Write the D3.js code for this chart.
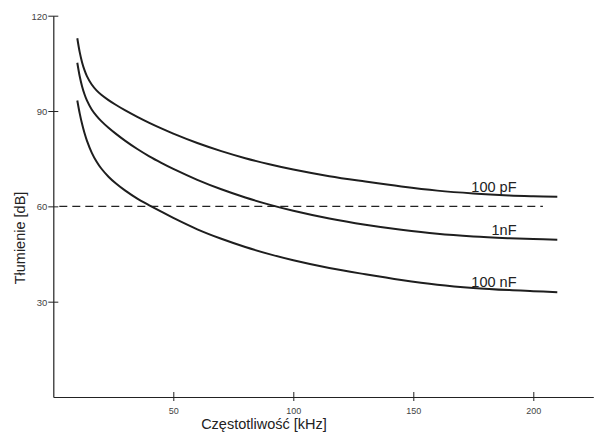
<!DOCTYPE html>
<html>
<head>
<meta charset="utf-8">
<script src="https://cdn.jsdelivr.net/npm/d3@7"></script>
<style>
  html, body { margin: 0; padding: 0; background: #fff; }
  svg { display: block; font-family: "Liberation Sans", Arial, sans-serif; }
</style>
</head>
<body>
<svg id="chart" width="594" height="441"></svg>
<script>
// ---- data ----
const freqs = [10, 11, 12, 13, 14, 16, 18, 20, 23, 26, 30, 35, 40, 45, 50, 60, 70, 80, 90, 100, 115, 130, 145, 160, 175, 190, 200, 210];
const att100pF = [112.90, 108.53, 105.29, 102.86, 100.99, 98.33, 96.50, 95.12, 93.43, 91.97, 90.19, 88.16, 86.27, 84.52, 82.88, 79.93, 77.38, 75.16, 73.25, 71.58, 69.49, 67.81, 66.25, 64.95, 64.06, 63.45, 63.19, 63.00];
const att1nF   = [105.20, 100.95, 97.73, 95.27, 93.33, 90.50, 88.49, 86.82, 84.73, 82.89, 80.61, 78.04, 75.74, 73.69, 71.78, 68.35, 65.37, 62.79, 60.55, 58.61, 56.17, 54.21, 52.62, 51.34, 50.51, 49.97, 49.70, 49.50];
const att100nF = [93.30, 89.25, 85.89, 83.07, 80.69, 76.93, 74.12, 71.91, 69.33, 67.26, 64.94, 62.43, 60.33, 58.31, 56.35, 52.77, 49.79, 47.21, 44.97, 43.03, 40.59, 38.63, 36.84, 35.36, 34.33, 33.64, 33.32, 33.00];
const seriesNames = ["100 pF", "1nF", "100 nF"];
const xTicks = [50, 100, 150, 200];
const yTicks = [30, 60, 90, 120];
const thresholdValue = 60;
const thresholdRange = [0, 204];
const labelX = 193;
const xTitle = "Częstotliwość [kHz]";
const yTitle = "Tłumienie [dB]";

const series = [att100pF, att1nF, att100nF].map((vals, i) => ({
  name: seriesNames[i],
  points: freqs.map((f, j) => ({ x: f, y: vals[j] }))
}));

// ---- scales ----
const svg = d3.select("#chart");
const x = d3.scaleLinear().domain([0, 225]).range([53.3, 593.3]);
const y = d3.scaleLinear().domain([0, 120]).range([397, 15.7]);

// ---- axes ----
const xAxis = d3.axisBottom(x).tickValues(xTicks).tickSizeInner(0).tickSizeOuter(0).tickPadding(0);
const gx = svg.append("g").attr("transform", `translate(0,${y(0)})`).call(xAxis);
gx.select(".domain").attr("stroke", "#222").attr("stroke-width", 1.2);
gx.selectAll(".tick line").attr("y1", -5).attr("y2", 4).attr("stroke", "#222").attr("stroke-width", 1);
gx.selectAll(".tick text").attr("y", 17).attr("dy", 0).attr("fill", "#444")
  .style("font-size", "9px").style("font-family", "Liberation Sans, Arial, sans-serif");

const yAxis = d3.axisLeft(y).tickValues(yTicks).tickSizeInner(0).tickSizeOuter(0).tickPadding(0);
const gy = svg.append("g").attr("transform", `translate(${x(0)},0)`).call(yAxis);
gy.select(".domain").attr("stroke", "#222").attr("stroke-width", 1.2);
gy.selectAll(".tick line").attr("x1", -5).attr("x2", 5).attr("stroke", "#222").attr("stroke-width", 1);
gy.selectAll(".tick text").attr("x", -6).attr("dy", "0.35em").attr("fill", "#444")
  .style("font-size", "9.5px").style("font-family", "Liberation Sans, Arial, sans-serif");

// ---- threshold dashed line ----
svg.append("line")
  .attr("x1", x(thresholdRange[0]) + 6).attr("x2", x(thresholdRange[1]))
  .attr("y1", y(thresholdValue)).attr("y2", y(thresholdValue))
  .attr("stroke", "#222").attr("stroke-width", 1.1).attr("stroke-dasharray", "8,5");

// ---- curves ----
const line = d3.line().x(d => x(d.x)).y(d => y(d.y)).curve(d3.curveCatmullRom.alpha(0.5));
svg.selectAll("path.curve").data(series).join("path")
  .attr("class", "curve")
  .attr("d", d => line(d.points))
  .attr("fill", "none").attr("stroke", "#1e1e1e").attr("stroke-width", 2);

// ---- curve labels ----
svg.selectAll("text.lbl").data(series).join("text")
  .attr("class", "lbl")
  .attr("x", x(labelX))
  .attr("y", d => y(d.points[d.points.length - 1].y) - 5)
  .attr("text-anchor", "end")
  .attr("fill", "#222")
  .style("font-size", "14.5px")
  .text(d => d.name);

// ---- axis titles ----
svg.append("text")
  .attr("x", 264).attr("y", 429)
  .attr("text-anchor", "middle").attr("fill", "#222")
  .style("font-size", "14.5px")
  .text(xTitle);

svg.append("text")
  .attr("transform", `translate(24.5,238) rotate(-90)`)
  .attr("text-anchor", "middle").attr("fill", "#222")
  .style("font-size", "14.5px")
  .text(yTitle);
</script>
</body>
</html>
